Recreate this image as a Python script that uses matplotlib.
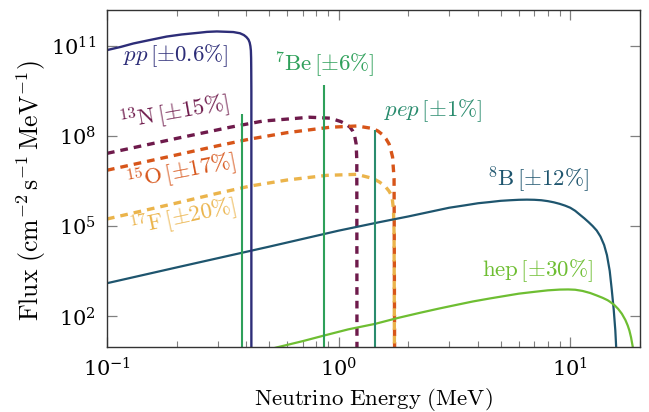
import matplotlib
matplotlib.use("Agg")
import matplotlib.pyplot as plt
from matplotlib.ticker import NullLocator, LogLocator, LogFormatterSciNotation

plt.rcParams['mathtext.fontset'] = 'cm'
plt.rcParams['font.family'] = ['DejaVu Serif']

# ---- data (energy in MeV, flux in cm^-2 s^-1 MeV^-1) ----
pp_E = [0.1, 0.115, 0.13, 0.15, 0.181, 0.21, 0.252, 0.27, 0.298, 0.351, 0.375, 0.39, 0.40,
        0.408, 0.413, 0.416, 0.418, 0.419, 0.4195, 0.42, 0.42]
pp_F = [7.4e10, 9.5e10, 1.23e11, 1.55e11, 2.09e11, 2.45e11, 2.82e11, 2.99e11, 3.09e11, 2.95e11,
        2.69e11, 2.34e11, 2.0e11, 1.66e11, 1.32e11, 1.0e11, 7.1e10, 4.0e10, 1.6e10, 3.2e9, 1.0]

b8_E = [0.1, 0.2, 0.5, 1.0, 1.5, 2.0, 2.5, 3.0, 3.5, 4.0, 4.5, 5.0, 5.5, 6.0, 6.5, 7.0, 7.5,
        8.0, 8.5, 9.0, 9.5, 10.0, 10.5, 11.0, 11.5, 12.0, 12.5, 13.0, 13.5, 14.0, 14.4, 14.8,
        15.1, 15.4, 15.65, 15.8, 15.85]
b8_F = [1.28e3, 4.3e3, 2.1e4, 7.2e4, 1.38e5, 2.14e5, 3.09e5, 4.17e5, 5.0e5, 5.89e5, 6.46e5,
        7.08e5, 7.41e5, 7.67e5, 7.76e5, 7.67e5, 7.41e5, 6.92e5, 6.31e5, 5.62e5, 4.9e5, 4.17e5,
        3.3e5, 2.45e5, 1.85e5, 1.38e5, 1.02e5, 7.3e4, 4.6e4, 2.4e4, 1.1e4, 3.3e3, 800, 170,
        34, 8, 3]

hep_E = [0.5, 0.54, 0.7, 0.86, 1.1, 1.44, 1.8, 2.25, 2.7, 3.2, 3.8, 4.5, 5.2, 6.0, 7.0, 8.0,
         9.0, 9.8, 10.5, 11.3, 12.2, 13.0, 13.8, 14.5, 14.9, 15.5, 16.1, 16.7, 17.3, 17.7,
         18.0, 18.3, 18.6, 18.8]
hep_F = [7.9, 9.3, 15.1, 22.9, 37.2, 56.9, 89.1, 133, 182, 240, 316, 398, 479, 575, 661, 741,
         785, 794, 776, 708, 603, 501, 417, 347, 302, 240, 178, 123, 75.9, 50.1, 33.9, 20.0,
         10.0, 4.0]

n13_E = [0.1, 0.2, 0.34, 0.47, 0.75, 0.92, 1.02, 1.07, 1.12, 1.15, 1.17, 1.19, 1.198, 1.2]
n13_F = [2.7e7, 8.5e7, 2.0e8, 3.2e8, 4.3e8, 4.0e8, 3.1e8, 2.6e8, 2.0e8, 1.5e8, 1.12e8, 5.6e7,
         1.6e7, 3]

o15_E = [0.1, 0.2, 0.3, 0.415, 0.6, 0.92, 1.2, 1.41, 1.48, 1.55, 1.60, 1.65, 1.68, 1.71,
         1.72, 1.735, 1.745]
o15_F = [7.4e6, 2.4e7, 4.8e7, 8.1e7, 1.32e8, 2.0e8, 2.2e8, 1.8e8, 1.48e8, 1.12e8, 8.3e7,
         5.6e7, 3.5e7, 2.0e7, 1.0e7, 4.0e6, 3]

f17_E = [0.1, 0.2, 0.3, 0.415, 0.6, 0.89, 1.2, 1.41, 1.5, 1.585, 1.65, 1.70, 1.725, 1.735, 1.742]
f17_F = [1.76e5, 6.0e5, 1.26e6, 2.2e6, 3.5e6, 5.0e6, 5.4e6, 3.9e6, 3.0e6, 2.2e6, 1.5e6, 1.0e6,
         3.6e5, 6.3e4, 3]

be7_E = [0.384, 0.862]
be7_F = [5.6e8, 5.0e9]
pep_E = [1.442]
pep_F = [1.6e8]

labels = {
    'pp':  r'$pp\,[\pm 0.6\%]$',
    'be7': r'$^{7}\mathrm{Be}\,[\pm 6\%]$',
    'pep': r'$pep\,[\pm 1\%]$',
    'n13': r'$^{13}\mathrm{N}\,[\pm 15\%]$',
    'o15': r'$^{15}\mathrm{O}\,[\pm 17\%]$',
    'f17': r'$^{17}\mathrm{F}\,[\pm 20\%]$',
    'b8':  r'$^{8}\mathrm{B}\,[\pm 12\%]$',
    'hep': r'$\mathrm{hep}\,[\pm 30\%]$',
}

colors = {
    'pp': '#2d2d78', 'be7': '#2ea05a', 'pep': '#2a8c6e', 'n13': '#6e1a4b',
    'o15': '#d75519', 'f17': '#ebb44b', 'b8': '#1e556e', 'hep': '#6ebe32',
}

fig = plt.figure(figsize=(6.49, 4.12), dpi=100)
ax = fig.add_axes([107/649, 1-346.5/412, 533/649, 336.5/412])
ax.set_xscale('log')
ax.set_yscale('log')
ax.set_xlim(0.1, 20)
ax.set_ylim(10, 1.6e12)

dash = (0, (2.3, 1.8))
ax.plot(n13_E, n13_F, color=colors['n13'], lw=2.4, linestyle=dash)
ax.plot(o15_E, o15_F, color=colors['o15'], lw=2.4, linestyle=dash)
ax.plot(f17_E, f17_F, color=colors['f17'], lw=2.4, linestyle=dash)

ax.plot(b8_E, b8_F, color=colors['b8'], lw=1.6)
ax.plot(hep_E, hep_F, color=colors['hep'], lw=1.6)
ax.plot(pp_E, pp_F, color=colors['pp'], lw=1.7)
ax.vlines(be7_E, 1, be7_F, color=colors['be7'], lw=1.5)
ax.vlines(pep_E, 1, pep_F, color=colors['pep'], lw=1.5)

fs = 16.5
def lab(key, x, y, rot=0):
    ax.text(x, y, labels[key], transform=ax.transAxes, color=colors[key],
            fontsize=fs, ha='center', va='center', rotation=rot,
            rotation_mode='anchor')

lab('pp', 0.1285, 0.8648)
lab('be7', 0.4071, 0.8366)
lab('pep', 0.6126, 0.6999)
lab('n13', 0.1250, 0.6909, 10)
lab('o15', 0.1388, 0.5186, 11)
lab('f17', 0.1426, 0.3819, 12)
lab('b8', 0.8077, 0.4948)
lab('hep', 0.8068, 0.2244)

ax.set_yticks([1e2, 1e5, 1e8, 1e11])
ax.yaxis.set_minor_locator(NullLocator())
ax.xaxis.set_major_locator(LogLocator(base=10))
ax.xaxis.set_minor_locator(LogLocator(base=10, subs=range(2, 10)))
ax.xaxis.set_major_formatter(LogFormatterSciNotation())
ax.yaxis.set_major_formatter(LogFormatterSciNotation())

ax.tick_params(which='both', direction='in', top=True, right=True,
               color='#808080', labelsize=15)
ax.tick_params(which='major', length=7, width=0.9, pad=8)
ax.tick_params(which='minor', length=4.5, width=0.8)
for s in ax.spines.values():
    s.set_color('#333333')
    s.set_linewidth(1.0)

ax.set_xlabel(r'$\mathrm{Neutrino\ Energy\ (MeV)}$', fontsize=16.5, labelpad=4)
ax.set_ylabel(r'$\mathrm{Flux}\ (\mathrm{cm}^{-2}\,\mathrm{s}^{-1}\,\mathrm{MeV}^{-1})$',
              fontsize=18.5)
ax.yaxis.set_label_coords(-0.111, 0.462)

fig.savefig('out.png', dpi=100)
